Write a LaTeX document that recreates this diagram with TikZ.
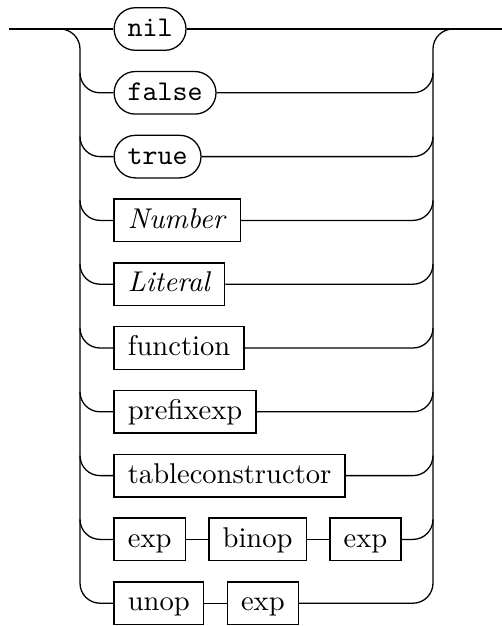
\documentclass[tikz,border=0pt]{standalone}
\usetikzlibrary{calc}
\begin{document}
\begin{tikzpicture}[x=0.35pt,y=-0.35pt,
  line width=0.45pt,
  term/.style={draw,rounded corners=7.4pt,minimum height=14.9pt,inner xsep=4.7pt,
    text height=1.5ex,text depth=.25ex,anchor=west,font=\ttfamily},
  nonterm/.style={draw,minimum height=14.9pt,inner xsep=4.8pt,
    text height=1.5ex,text depth=.25ex,anchor=west},
  rc/.style={rounded corners=7pt}]
\useasboundingbox (0,0) rectangle (502,626);
\coordinate (in) at (9,29);
\coordinate (out) at (502,29);
\coordinate (lt) at (80,29);
\coordinate (rt) at (433,29);
% nodes
\node[term] (nil) at (113.5,29) {nil};
\node[term] (false) at (113.5,92.8) {false};
\node[term] (true) at (113.5,156.6) {true};
\node[nonterm] (number) at (113.5,220.4) {\textit{Number}};
\node[nonterm] (literal) at (113.5,284.2) {\textit{Literal}};
\node[nonterm] (function) at (113.5,348) {function};
\node[nonterm] (prefixexp) at (113.5,411.8) {prefixexp};
\node[nonterm] (tablec) at (113.5,475.6) {tableconstructor};
\node[nonterm] (expa) at (113.5,539.4) {exp};
\node[nonterm] (binop) at (208.3,539.4) {binop};
\node[nonterm] (expb) at (329.3,539.4) {exp};
\node[nonterm] (unop) at (113.5,603.2) {unop};
\node[nonterm] (expc) at (226.7,603.2) {exp};
% top row
\draw (in) -- (nil.west);
\draw (nil.east) -- (out);
% left rail
\draw[rc] ($(lt)+(-20,0)$) -| (lt |- unop.west) -- (unop.west);
\foreach \n in {false,true,number,literal,function,prefixexp,tablec,expa}{
  \draw[rc] ($(lt |- \n.west)+(0,-20)$) |- (\n.west);
}
% right rail
\draw[rc] (expc.east) -| (rt) -- ($(rt)+(20,0)$);
\foreach \n in {false,true,number,literal,function,prefixexp,tablec,expb}{
  \draw[rc] (\n.east) -| ($(rt |- \n.east)+(0,-20)$);
}
% chains
\draw (expa) -- (binop);
\draw (binop) -- (expb);
\draw (unop) -- (expc);
\end{tikzpicture}
\end{document}
